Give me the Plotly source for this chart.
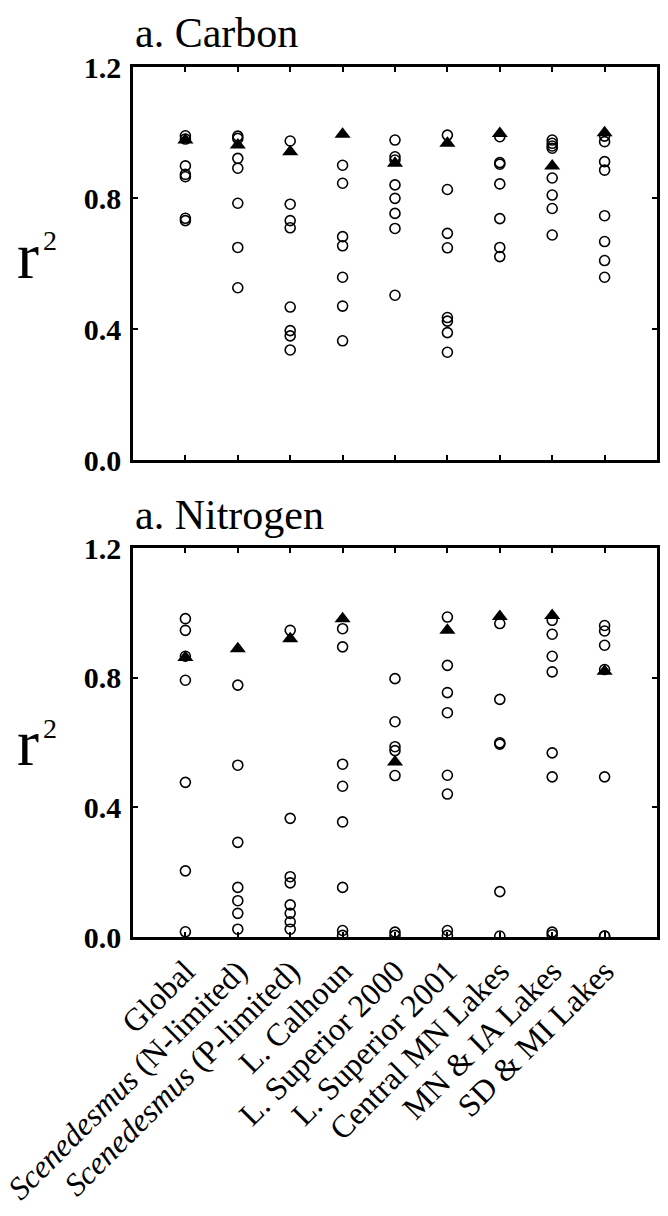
import plotly.graph_objects as go

categories = ["Global", "<i>Scenedesmus</i> (N-limited)", "<i>Scenedesmus</i> (P-limited)",
              "L. Calhoun", "L. Superior 2000", "L. Superior 2001",
              "Central MN Lakes", "MN & IA Lakes", "SD & MI Lakes"]

carbon_circles = [
    [0.99, 0.98, 0.898, 0.872, 0.865, 0.738, 0.731],
    [0.989, 0.982, 0.921, 0.891, 0.784, 0.649, 0.526],
    [0.974, 0.781, 0.731, 0.709, 0.467, 0.395, 0.379, 0.336],
    [0.90, 0.845, 0.682, 0.654, 0.558, 0.470, 0.364],
    [0.977, 0.926, 0.916, 0.84, 0.799, 0.753, 0.707, 0.503],
    [0.992, 0.826, 0.692, 0.648, 0.435, 0.424, 0.389, 0.329],
    [0.987, 0.908, 0.903, 0.843, 0.737, 0.649, 0.621],
    [0.977, 0.967, 0.959, 0.952, 0.861, 0.809, 0.768, 0.687],
    [0.989, 0.972, 0.911, 0.885, 0.746, 0.667, 0.609, 0.558],
]
carbon_triangle = [0.977, 0.962, 0.941, 0.995, 0.906, 0.967, 0.997, 0.898, 0.999]

nitrogen_circles = [
    [0.982, 0.946, 0.866, 0.792, 0.477, 0.204, 0.016],
    [0.777, 0.530, 0.292, 0.153, 0.112, 0.073, 0.024],
    [0.946, 0.366, 0.186, 0.167, 0.099, 0.073, 0.047, 0.024],
    [0.951, 0.895, 0.533, 0.465, 0.355, 0.153, 0.02, 0.005],
    [0.797, 0.664, 0.587, 0.575, 0.498, 0.015, 0.005],
    [0.987, 0.838, 0.754, 0.692, 0.499, 0.441, 0.02, 0.005],
    [0.967, 0.733, 0.599, 0.595, 0.140, 0.003],
    [0.977, 0.934, 0.866, 0.818, 0.568, 0.494, 0.015, 0.007],
    [0.961, 0.944, 0.900, 0.825, 0.494, 0.003, 0.003],
]
nitrogen_triangle = [0.862, 0.889, 0.920, 0.982, 0.540, 0.946, 0.989, 0.992, 0.820]

y_ticks = [0.0, 0.4, 0.8, 1.2]

FONT = "Liberation Serif"
OFF = 8  # browser body margin
W, H = 668 - OFF, 1216 - OFF
PL, PR, PT, PB = 133 - OFF, 657 - OFF, 67 - OFF, 937 - OFF  # plot box in figure px

fig = go.Figure()

def add_panel(circles, tris, xaxis, yaxis):
    xs, ys = [], []
    for c, vals in zip(categories, circles):
        xs += [c] * len(vals)
        ys += vals
    fig.add_trace(go.Scatter(x=xs, y=ys, mode="markers", xaxis=xaxis, yaxis=yaxis,
                             showlegend=False,
                             marker=dict(symbol="circle-open", size=10, color="black",
                                         line=dict(width=1.6, color="black"))))
    fig.add_trace(go.Scatter(x=categories, y=tris, mode="markers", xaxis=xaxis, yaxis=yaxis,
                             showlegend=False,
                             marker=dict(symbol="triangle-up", size=14, color="black",
                                         line=dict(width=0))))

add_panel(carbon_circles, carbon_triangle, "x", "y")
add_panel(nitrogen_circles, nitrogen_triangle, "x2", "y2")

axis_common = dict(showline=True, linewidth=2.5, linecolor="black", mirror="ticks",
                   ticks="inside", ticklen=5, tickwidth=2, tickcolor="black",
                   showgrid=False, zeroline=False, automargin=False)

yfont = dict(family=FONT, size=30, color="black", weight="bold")

def py(page_y):
    return (PB - (page_y - OFF)) / (PB - PT)

def px(page_x):
    return ((page_x - OFF) - PL) / (PR - PL)

fig.update_layout(
    width=W, height=H,
    margin=dict(l=PL, r=W - PR, t=PT, b=H - PB),
    plot_bgcolor="white", paper_bgcolor="white",
    xaxis=dict(domain=[0, 1], anchor="y", type="category", categoryorder="array",
               categoryarray=categories, range=[-1, 9], showticklabels=False, **axis_common),
    yaxis=dict(domain=[py(460), 1], anchor="x", range=[0, 1.2], tickvals=y_ticks,
               tickformat=".1f", tickfont=yfont, ticklabelstandoff=3, **axis_common),
    xaxis2=dict(domain=[0, 1], anchor="y2", type="category", categoryorder="array",
                categoryarray=categories, range=[-1, 9], tickangle=-45,
                tickfont=dict(family=FONT, size=32, color="black"), **axis_common),
    yaxis2=dict(domain=[0, py(548)], anchor="x2", range=[0, 1.2], tickvals=y_ticks,
                tickformat=".1f", tickfont=yfont, ticklabelstandoff=3, **axis_common),
)

for text, xp, yp in [("a. Carbon", 133, 33), ("a. Nitrogen", 133, 515)]:
    fig.add_annotation(text=text, xref="paper", yref="paper", x=px(xp), y=py(yp),
                       xanchor="left", yanchor="middle", showarrow=False,
                       font=dict(family=FONT, size=42, color="black"))

for rc in [255, 742]:
    fig.add_annotation(text="r", xref="paper", yref="paper", x=px(15), y=py(rc),
                       xanchor="left", yanchor="middle", showarrow=False,
                       font=dict(family=FONT, size=66, color="black"))
    fig.add_annotation(text="2", xref="paper", yref="paper", x=px(41), y=py(rc - 14),
                       xanchor="left", yanchor="middle", showarrow=False,
                       font=dict(family=FONT, size=28, color="black"))

fig.write_html("out.html")
